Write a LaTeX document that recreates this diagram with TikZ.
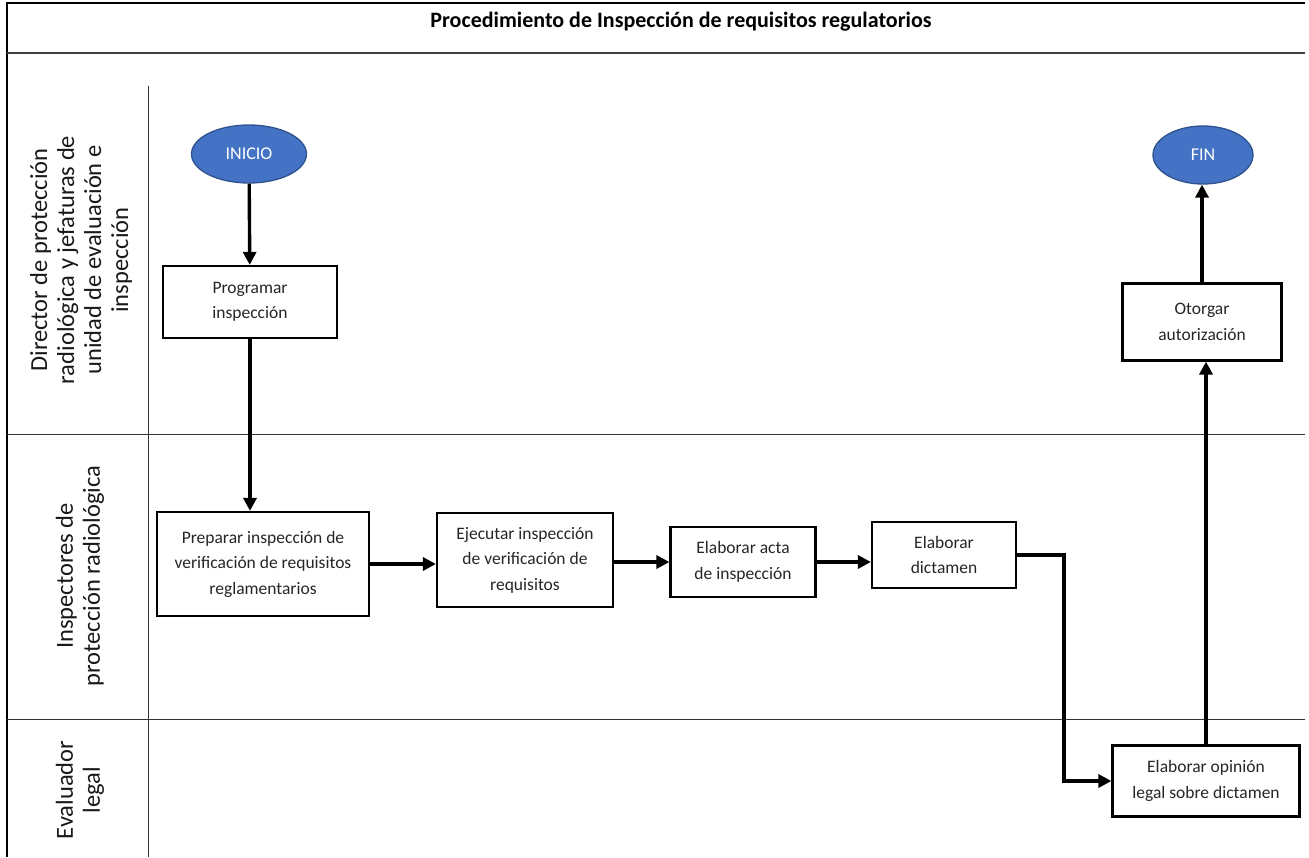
\documentclass[tikz,border=0pt]{standalone}
\usepackage{fontspec}
\setmainfont{Carlito}
\usetikzlibrary{arrows.meta,shapes.geometric,positioning,calc}
\definecolor{inicioazul}{HTML}{4472C4}
\definecolor{inicioborde}{HTML}{2F528F}
\tikzset{
	paso/.style={draw=black, line width=2.2pt, fill=white, align=center, inner sep=0pt,
		text=black!85, font=\fontsize{17.5}{25.5}\selectfont},
	terminal/.style={ellipse, draw=inicioborde, line width=1.3pt, fill=inicioazul, inner sep=0pt,
		text=white, font=\fontsize{18}{20}\selectfont},
	flujo/.style={draw=black, line width=3.4pt, -{Triangle[length=13pt,width=13pt]}},
	carril/.style={draw=black!80, line width=1pt},
	rotulo/.style={rotate=90, align=center, text=black!90, font=\fontsize{24.5}{27}\selectfont},
}

\begin{document}
\begin{tikzpicture}[x=1pt, y=-1pt]
	\useasboundingbox (0,0) rectangle (1309,857);
	% marco y carriles
	\draw[line width=2.4pt] (7,857) -- (7,3) -- (1305,3);
	\draw[line width=2.4pt, black!75] (7,53) -- (1305,53);
	\draw[carril] (148,86) -- (148,857);
	\draw[carril] (7,434) -- (1305,434);
	\draw[carril] (7,719) -- (1305,719);
	\node[font=\fontsize{22}{24}\selectfont\bfseries] (titulo) at (681,22) {Procedimiento de Inspección de requisitos regulatorios};
	%
	\node[rotulo] (director) at (81,260) {Director de protección\\ radiológica y jefaturas de\\ unidad de evaluación e\\ inspección};
	\node[rotulo] (inspectores) at (80,576) {Inspectores de\\ protección radiológica};
	\node[rotulo] (evaluador) at (80,790) {Evaluador\\ legal};
	%
	\node[terminal, minimum width=115, minimum height=58] (inicio) at (249,154) {INICIO};
	\node[terminal, minimum width=100, minimum height=58] (fin) at (1203,155) {FIN};
	\node[paso, minimum width=174, minimum height=72] (programar) at (250,302) {Programar\\ inspección};
	\node[paso, minimum width=159, minimum height=77] (otorgar) at (1202,322) {Otorgar\\ autorización};
	\node[paso, minimum width=212, minimum height=104] (preparar) at (263,564) {Preparar inspección de\\ verificación de requisitos\\ reglamentarios};
	\node[paso, minimum width=176, minimum height=94] (ejecutar) at (525,560) {Ejecutar inspección\\ de verificación de\\ requisitos};
	\node[paso, minimum width=145, minimum height=70] (acta) at (743,562) {Elaborar acta\\ de inspección};
	\node[paso, minimum width=144, minimum height=66] (dictamen) at (944,555) {Elaborar\\ dictamen};
	\node[paso, minimum width=187, minimum height=71] (opinion) at (1206,781) {Elaborar opinión\\ legal sobre dictamen};
	%
	\draw[flujo] (inicio) -- (programar);
	\draw[flujo] (programar.south) -- (programar.south |- preparar.north);
	\draw[flujo] (preparar.east) -- (preparar.east -| ejecutar.west);
	\draw[flujo] (acta.west -| ejecutar.east) -- (acta.west);
	\draw[flujo] (acta.east) -- (acta.east -| dictamen.west);
	\draw[flujo] (dictamen.east) -- ++(47,0) |- (opinion.west);
	\draw[flujo] (opinion.north) -- (opinion.north |- otorgar.south);
	\draw[flujo] (otorgar.north) -- (otorgar.north |- fin.south);
\end{tikzpicture}
\end{document}
